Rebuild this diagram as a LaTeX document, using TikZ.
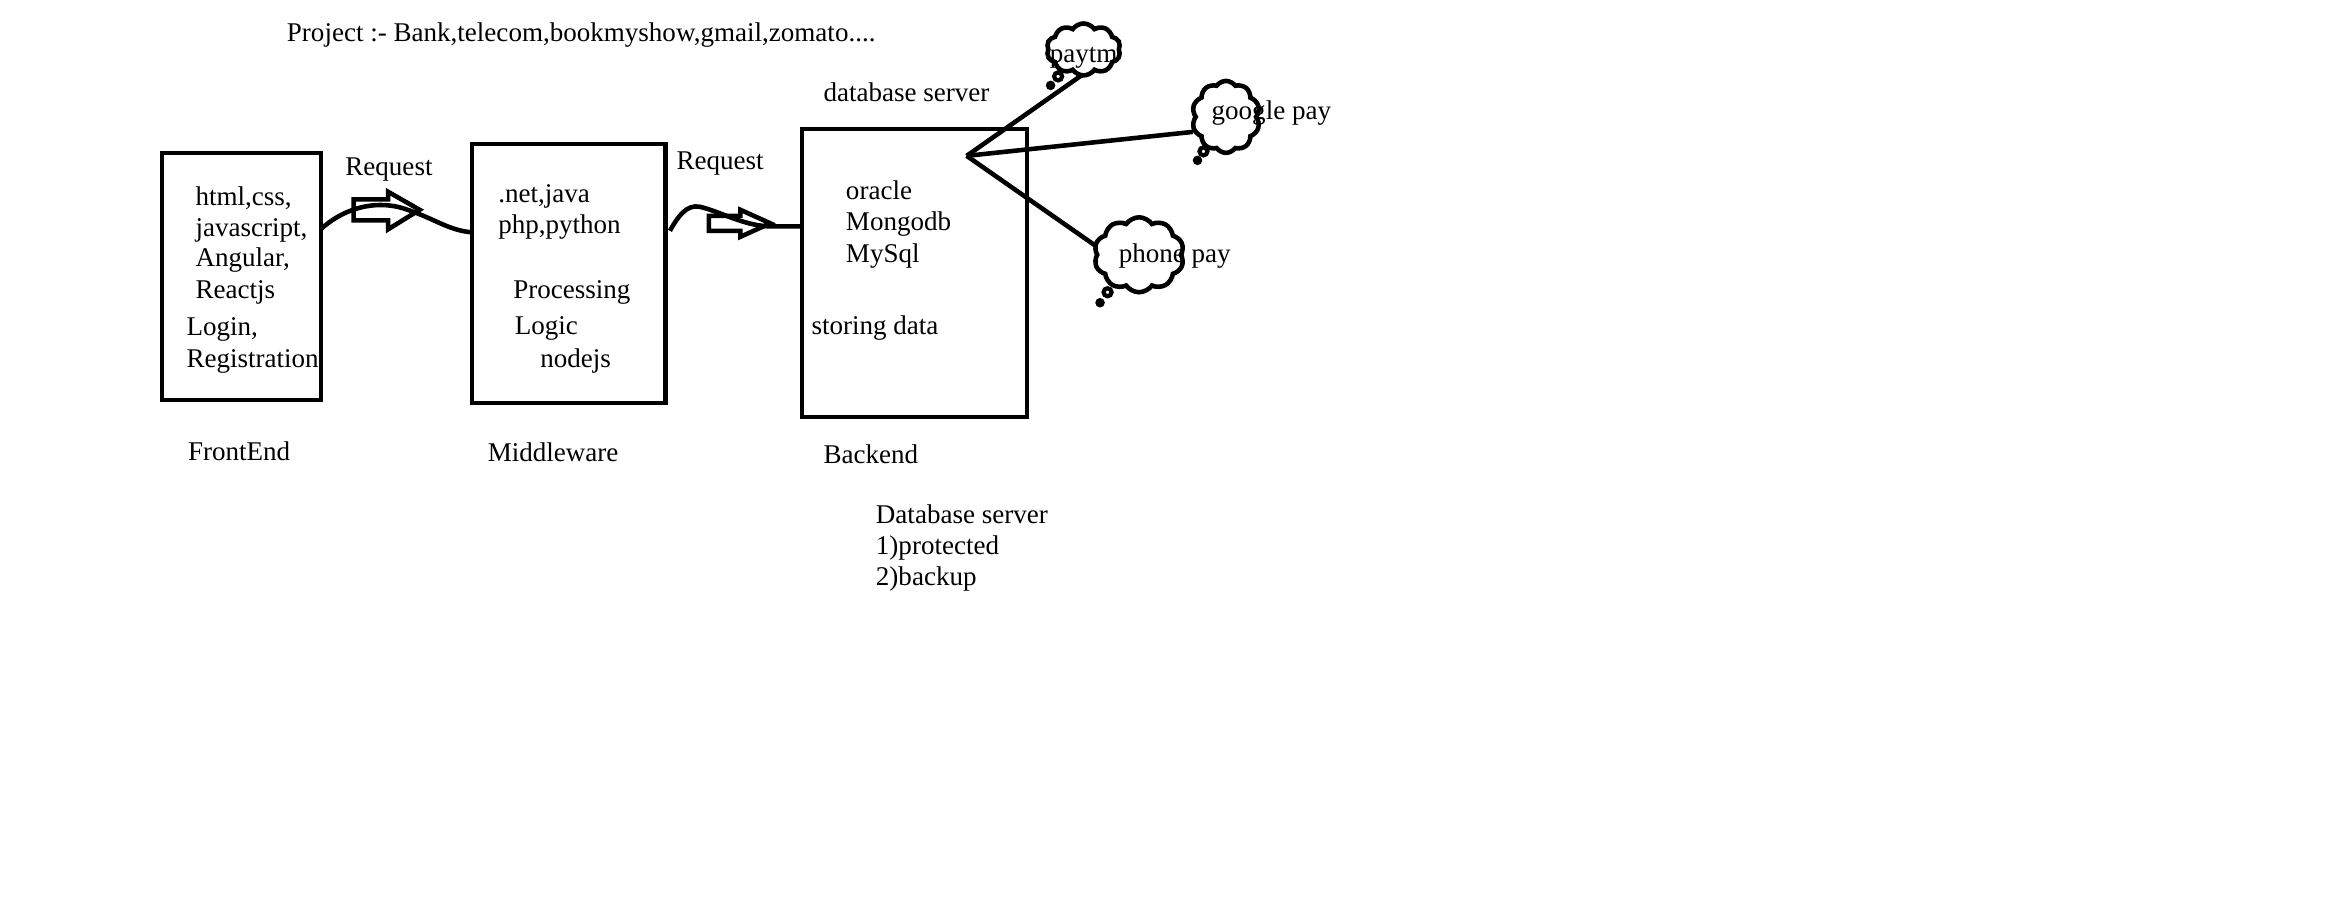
\documentclass[tikz,border=0pt]{standalone}
\usepackage{fontspec}
\setmainfont{Liberation Serif}
\usetikzlibrary{shapes.symbols}
\begin{document}
\begin{tikzpicture}[x=0.015cm,y=-0.015cm,
  lbl/.style={anchor=base west,inner sep=0pt,font=\fontsize{7.7pt}{9pt}\selectfont},
  boxline/.style={line width=1.2pt},
  conn/.style={line width=1.3pt},
  hollow/.style={line width=1.3pt,line join=miter},
  bubble/.style={cloud,cloud puffs=10,cloud puff arc=110,cloud ignores aspect,draw,line width=1.3pt,inner sep=0pt,outer sep=0pt},
  tail/.style={circle,draw,line width=1.2pt,inner sep=0pt}]
\useasboundingbox (0,0) rectangle (1568,613);
% title
\node[lbl] (title) at (191,28) {Project :- Bank,telecom,bookmyshow,gmail,zomato....};
% boxes
\draw[boxline] (108,102) rectangle (214,267);
\coordinate (feR) at (214,153);
\draw[boxline] (315,96) rectangle (444,269);
\coordinate (mwL) at (315,155);
\coordinate (mwR) at (447,154);
\draw[boxline] (535,86) rectangle (685,278);
\coordinate (beL) at (535,151);
% frontend texts
\node[lbl] (t1) at (130,137) {html,css,};
\node[lbl] (t2) at (130,158) {javascript,};
\node[lbl] (t3) at (130,178) {Angular,};
\node[lbl] (t4) at (130,199) {Reactjs};
\node[lbl] (t5) at (124,224) {Login,};
\node[lbl] (t6) at (124,245) {Registration};
\node[lbl] (fel) at (125,307) {FrontEnd};
% middleware texts
\node[lbl] (m1) at (332,135) {.net,java};
\node[lbl] (m2) at (332,156) {php,python};
\node[lbl] (m3) at (342,199) {Processing};
\node[lbl] (m4) at (343,223) {Logic};
\node[lbl] (m5) at (360,245) {nodejs};
\node[lbl] (mwl) at (325,308) {Middleware};
% backend texts
\node[lbl] (dbs) at (549,68) {database server};
\node[lbl] (b1) at (564,133) {oracle};
\node[lbl] (b2) at (564,154) {Mongodb};
\node[lbl] (b3) at (564,175) {MySql};
\node[lbl] (b4) at (541,223) {storing data};
\node[lbl] (bel) at (549,309) {Backend};
\node[lbl] (n1) at (584,349) {Database server};
\node[lbl] (n2) at (584,370) {1)protected};
\node[lbl] (n3) at (584,391) {2)backup};
% requests
\node[lbl] (r1) at (230,117) {Request};
\node[lbl] (r2) at (451,113) {Request};
\draw[conn] (feR) .. controls (228,140) and (250,132) .. (272,140) .. controls (290,146) and (300,154) .. (mwL);
\draw[hollow] (236,133) -- (259,133) -- (259,128) -- (280,140) -- (259,153) -- (259,147) -- (236,147) -- cycle;
\draw[conn] (mwR) .. controls (452,145) and (458,136) .. (467,138) .. controls (480,141) and (495,150) .. (512,151) -- (beL);
\draw[hollow] (473,144) -- (494,144) -- (494,140) -- (514,149) -- (494,158) -- (494,154) -- (473,154) -- cycle;
% clouds
\node[bubble,minimum width=0.74cm,minimum height=0.52cm] (paytm) at (723,33) {};
\node[lbl] (paytmt) at (700,42) {paytm};
\node[tail,minimum size=0.08cm] (pt1) at (706,51) {};
\node[tail,minimum size=0.05cm] (pt2) at (701,57) {};
\node[bubble,minimum width=0.68cm,minimum height=0.72cm] (gpay) at (818,78) {};
\node[lbl] (gpayt) at (808,80) {google pay};
\node[tail,minimum size=0.08cm] (gt1) at (803,101) {};
\node[tail,minimum size=0.05cm] (gt2) at (799,107) {};
\node[bubble,minimum width=0.9cm,minimum height=0.75cm] (ppay) at (760,170) {};
\node[lbl] (ppayt) at (746,175) {phone pay};
\node[tail,minimum size=0.08cm] (ppt1) at (739,195) {};
\node[tail,minimum size=0.05cm] (ppt2) at (734,202) {};
% connectors
\coordinate (hub) at (645,104);
\draw[conn] (hub) -- (722,50);
\draw[conn] (hub) -- (796,88);
\draw[conn] (hub) -- (731,164);
\end{tikzpicture}
\end{document}
